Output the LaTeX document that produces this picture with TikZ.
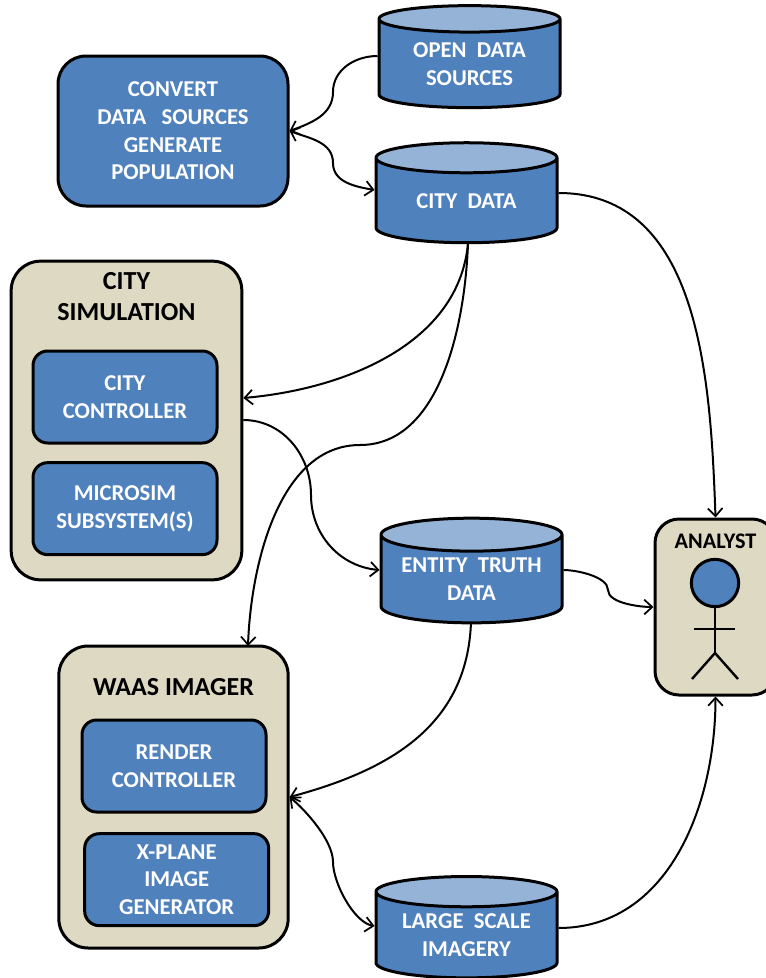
\documentclass[tikz,border=0pt]{standalone}
\usepackage{fontspec}
\setmainfont{Carlito}
\usepackage{tikz}
\usetikzlibrary{positioning,shapes.geometric,arrows.meta}
\definecolor{boxblue}{RGB}{79,129,189}
\definecolor{lidblue}{RGB}{149,179,215}
\definecolor{boxtan}{RGB}{221,217,195}
\tikzset{
    link/.style={draw, line width=1.5pt, {Straight Barb[length=6pt,width=11pt,line width=1.3pt]}-{Straight Barb[length=6pt,width=11pt,line width=1.3pt]}},
    arrowto/.style={draw, line width=1.5pt, -{Straight Barb[length=6pt,width=11pt,line width=1.3pt]}},
    datastore/.style={cylinder, shape border rotate=90, draw, line width=2.25pt, minimum width=135.75pt, minimum height=75pt, aspect=0.3, cylinder uses custom fill, cylinder body fill=boxblue, cylinder end fill=lidblue, text=white, font=\fontsize{17}{20.8}\selectfont\bfseries, align=center, inner sep=0pt},
    bluebox/.style={rectangle, rounded corners=11pt, draw, line width=2.25pt, fill=boxblue, text=white, font=\fontsize{17}{20.8}\selectfont\bfseries, align=center, minimum width=138pt, minimum height=69pt},
    tanbox/.style={rectangle, rounded corners=22pt, draw, line width=2.25pt, fill=boxtan, minimum width=173pt},
    boxtitle/.style={font=\fontsize{19.5}{23}\selectfont\bfseries, align=center, inner sep=0pt}
}
\begin{document}
\begin{tikzpicture}[x=0.75pt,y=-0.75pt]
    \useasboundingbox (0,0) rectangle (766,978);
    % stores
    \node[datastore, aspect=0.235, minimum height=76.5pt] (opendata) at (469.5,64) {OPEN\ \ DATA\\SOURCES};
    \node[datastore] (citydata) at (466.5,201) {CITY\ \ DATA};
    \node[datastore, aspect=0.235, minimum height=78.5pt] (entitydata) at (471.5,579.5) {ENTITY\ \ TRUTH\\DATA};
    \node[datastore, aspect=0.235, minimum height=76pt] (imagery) at (466.5,935.5) {LARGE\ \ SCALE\\IMAGERY};

    \node[bluebox, minimum width=172.5pt, minimum height=112.5pt, rounded corners=21pt] (convert) at (173,131) {CONVERT\\DATA\ \ \ SOURCES\\GENERATE\\POPULATION};

    % city simulation
    \node[tanbox, minimum height=239pt] (citysim) at (126.5,420.5) {};
    \node[boxtitle, below=9.5pt of citysim.north] (citytitle) {CITY\\SIMULATION};
    \node[bluebox] (controller) at (125,397) {CITY\\CONTROLLER};
    \node[bluebox, below=12.5pt of controller] (microsim) {MICROSIM\\SUBSYSTEM(S)};

    % imager
    \node[tanbox, minimum width=172pt, minimum height=226.5pt] (waas) at (173.5,797) {};
    \node[boxtitle, below=25.5pt of waas.north] (waastitle) {WAAS IMAGER};
    \node[bluebox] (render) at (174,766) {RENDER\\CONTROLLER};
    \node[bluebox, below=14pt of render, xshift=2pt] (xplane) {X-PLANE\\IMAGE\\GENERATOR};

    % analyst
    \node[tanbox, minimum width=90.75pt, minimum height=132pt, rounded corners=18pt] (analyst) at (715.5,607) {};
    \node[boxtitle, font=\fontsize{16.7}{20}\selectfont\bfseries, below=12pt of analyst.north] (analysttitle) {ANALYST};
    \node[circle, draw, line width=2.25pt, fill=boxblue, minimum size=35.5pt, inner sep=0pt] (head) at (715,583) {};
    \coordinate (hip) at (715,653);
    \coordinate (armleft) at (694,629);
    \coordinate (armright) at (735,629);
    \coordinate (footleft) at (692,679);
    \coordinate (footright) at (738,679);
    \draw[line width=1.8pt] (head) -- (hip);
    \draw[line width=1.8pt] (armleft) -- (armright);
    \draw[line width=1.8pt] (footleft) -- (hip) -- (footright);

    % waypoints
    \coordinate (bendopen) at (333,92);
    \coordinate (bendcity) at (333,163);
    \coordinate (bendcontrol) at (311,495);
    \coordinate (bendwaas) at (360,445);
    \coordinate (bendtruth) at (608,590);
    \coordinate (bendimagery) at (333,862);
    \coordinate (citybottom) at (468,243);
    \coordinate (waastop) at (248,646);
    \coordinate (truthbottom) at (471,622);

    \path[arrowto] (opendata.west |- 0,56) to[out=180,in=90] (bendopen) to[out=270,in=20] (convert.east);
    \path[link] (convert.east) to[out=-20,in=90] (bendcity) to[out=270,in=170] (citydata.west |- 0,190);
    \path[arrowto] (citydata.east |- 0,193) to[out=0,in=92,looseness=1] (analyst.north);
    \path[arrowto] (citybottom) to[out=265,in=5,looseness=0.95] (citysim.east |- 0,398);
    \path[arrowto] (citybottom) to[out=268,in=0,looseness=0.9] (bendwaas) to[out=180,in=88,looseness=0.9] (waastop);
    \path[arrowto] (citysim.east |- 0,420) to[out=0,in=90] (bendcontrol) to[out=270,in=175] (entitydata.west |- 0,570);
    \path[arrowto] (entitydata.east |- 0,570) to[out=0,in=90,looseness=0.7] (bendtruth) to[out=270,in=180,looseness=0.7] (analyst.west);
    \path[arrowto] (truthbottom) to[out=268,in=15,looseness=1.05] (waas.east);
    \path[link] (waas.east) to[out=-40,in=90,looseness=0.7] (bendimagery) to[out=270,in=170,looseness=0.7] (imagery.west |- 0,926);
    \path[arrowto] (imagery.east |- 0,928) to[out=0,in=270,looseness=1] (analyst.south);
\end{tikzpicture}
\end{document}
